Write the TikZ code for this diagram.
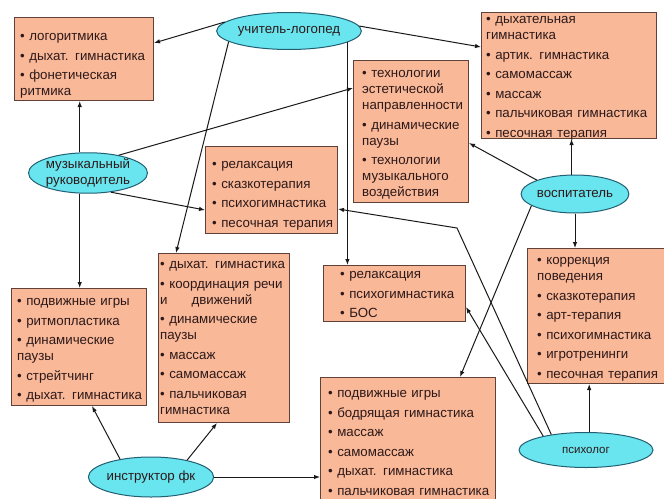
\documentclass[tikz,border=0pt]{standalone}
\usepackage{fontspec}
\setmainfont{Liberation Sans}
\usetikzlibrary{shapes.geometric,arrows.meta}
\definecolor{boxfill}{RGB}{249,184,152}
\definecolor{boxline}{RGB}{95,65,55}
\definecolor{ellfill}{RGB}{104,229,239}
\definecolor{ellline}{RGB}{35,95,115}
\definecolor{txt}{RGB}{45,25,25}
\definecolor{conn}{RGB}{25,25,25}
\begin{document}
\begin{tikzpicture}[x=1pt,y=-1pt,
  box/.style={draw=boxline, fill=boxfill, line width=1pt,
    inner sep=0pt, anchor=north west},
  btext/.style={anchor=base west, align=left, inner sep=0pt,
    text width=190pt, text=txt, font=\fontsize{13.3}{16}\selectfont},
  ell/.style={ellipse, draw=ellline, fill=ellfill, line width=1pt,
    inner sep=0pt, align=center, text=txt,
    font=\fontsize{13.3}{16}\selectfont},
  conn/.style={draw=conn, line width=1pt, -{Latex[length=6pt,width=4.5pt]}}
]
\useasboundingbox (0,0) rectangle (664,498);

% boxes
\node[box, minimum width=139pt, minimum height=83pt] (B1) at (14,17) {};
\node[box, minimum width=175pt, minimum height=126pt] (B2) at (481,12) {};
\node[box, minimum width=115pt, minimum height=142pt] (B3) at (353,60) {};
\node[box, minimum width=132pt, minimum height=87pt] (B4) at (205,146) {};
\node[box, minimum width=138pt, minimum height=135pt] (B5) at (527,248) {};
\node[box, minimum width=131pt, minimum height=169pt] (B6) at (158,253) {};
\node[box, minimum width=142pt, minimum height=56pt] (B7) at (323,265) {};
\node[box, minimum width=135pt, minimum height=117pt] (B8) at (11,288) {};
\node[box, minimum width=175pt, minimum height=124pt] (B9) at (320,377) {};

% box texts
\node[btext] (T1) at (20,40.5)
  {• логоритмика\\[3.5pt]• дыхат. гимнастика\\[3.5pt]• фонетическая\\ритмика};
\node[btext] (T2) at (486,23.5)
  {• дыхательная\\гимнастика\\[3.5pt]• артик. гимнастика\\[3.5pt]• самомассаж\\[3.5pt]• массаж\\[3.5pt]• пальчиковая гимнастика\\[3.5pt]• песочная терапия};
\node[btext] (T3) at (362,77.5)
  {• технологии\\эстетической\\направленности\\[3.5pt]• динамические\\паузы\\[3.5pt]• технологии\\музыкального\\воздействия};
\node[btext] (T4) at (212,168.5)
  {• релаксация\\[3.5pt]• сказкотерапия\\[3.5pt]• психогимнастика\\[3.5pt]• песочная терапия};
\node[btext] (T5) at (537,264.5)
  {• коррекция\\поведения\\[3.5pt]• сказкотерапия\\[3.5pt]• арт-терапия\\[3.5pt]• психогимнастика\\[3.5pt]• игротренинги\\[3.5pt]• песочная терапия};
\node[btext] (T6) at (160,268.5)
  {• дыхат. гимнастика\\[3.5pt]• координация речи\\и\hspace{24pt}движений\\[3.5pt]• динамические\\паузы\\[3.5pt]• массаж\\[3.5pt]• самомассаж\\[3.5pt]• пальчиковая\\гимнастика};
\node[btext] (T7) at (340,278.5)
  {• релаксация\\[3.5pt]• психогимнастика\\[3.5pt]• БОС};
\node[btext] (T8) at (17,305.5)
  {• подвижные игры\\[3.5pt]• ритмопластика\\[3.5pt]• динамические\\паузы\\[3.5pt]• стрейтчинг\\[3.5pt]• дыхат. гимнастика};
\node[btext] (T9) at (328,397.5)
  {• подвижные игры\\[3.5pt]• бодрящая гимнастика\\[3.5pt]• массаж\\[3.5pt]• самомассаж\\[3.5pt]• дыхат. гимнастика\\[3.5pt]• пальчиковая гимнастика};

% ellipses
\node[ell, minimum width=135pt, minimum height=37pt] (E1) at (289,31) {учитель-логопед};
\node[ell, minimum width=113pt, minimum height=40pt] (E2) at (88,173) {музыкальный\\руководитель};
\node[ell, minimum width=104pt, minimum height=38pt] (E3) at (575,194) {воспитатель};
\node[ell, minimum width=134pt, minimum height=35pt, font=\fontsize{11.5}{13}\selectfont] (E4) at (586,450) {психолог};
\node[ell, minimum width=112pt, minimum height=40pt] (E5) at (151,477) {инструктор фк};
\coordinate (bend) at (457,228);

% connectors
\draw[conn] (E1.172) -- (B1.east |- 0,43);
\draw[conn] (E1.4) -- (B2.west |- 0,47);
\draw[conn] (E1.190) -- (B6.north -| 176,0);
\draw[conn] (E1.-11) -- (E1.-11 |- B7.north);
\draw[conn] (E2.112) -- (E2.112 |- B1.south);
\draw[conn] (E2.248) -- (E2.248 |- B8.north);
\draw[conn] (E2.30) -- (B3.west |- 0,88);
\draw[conn] (E2.-40) -- (B4.west |- 0,210);
\draw[conn] (E3.100) -- (E3.100 |- B2.south);
\draw[conn] (E3.160) -- (B3.east |- 0,143);
\draw[conn] (E3.south) -- (E3.south |- B5.north);
\draw[conn] (E3.195) -- (B9.north -| 460,0);
\draw[conn] (E4.80) -- (E4.80 |- B5.south);
\draw[conn] (E4.162) -- (B7.east |- 0,307);
\draw[conn] (E4.156) -- (bend) -- (B4.east |- 0,209);
\draw[conn] (E5.150) -- (B8.south -| 92,0);
\draw[conn] (E5.25) -- (B6.south -| 217,0);
\draw[conn] (E5.east) -- (E5.east -| B9.west);
\end{tikzpicture}
\end{document}
